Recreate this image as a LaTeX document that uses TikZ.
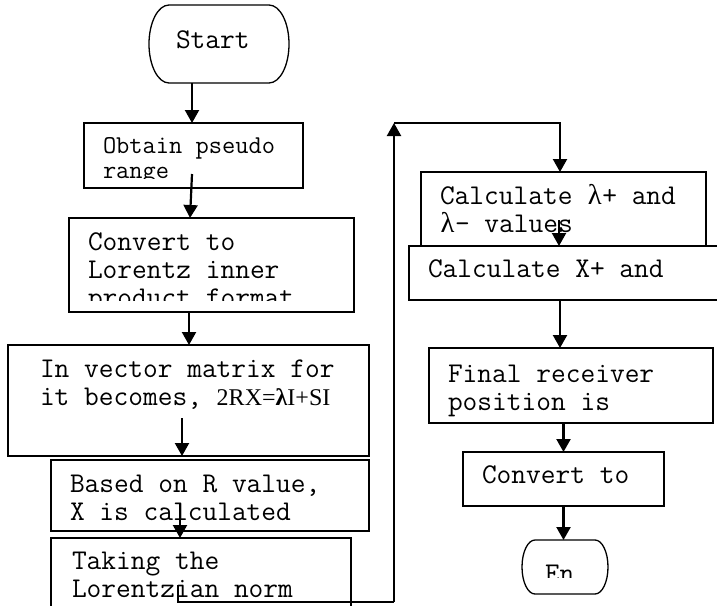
\documentclass[tikz,border=0pt]{standalone}
\usepackage{fontspec}
\newfontfamily\tms{Liberation Serif}
\usetikzlibrary{arrows.meta,calc}
\newcommand{\lam}{\makebox[0.525em]{\tms λ}}
\begin{document}
\begin{tikzpicture}[x=1pt,y=-1pt,
  box/.style={draw,line width=1.3pt,rectangle,inner sep=0pt,outer sep=0pt,anchor=north west},
  term/.style={rectangle,inner sep=0pt,outer sep=0pt,anchor=north west},
  termline/.style={line width=1.3pt},
  txt/.style={inner sep=0pt,outer sep=0pt,anchor=base west,align=left,font=\ttfamily\fontsize{28.6}{28}\selectfont},
  smalltxt/.style={txt,font=\ttfamily\fontsize{25.7}{25}\selectfont},
  arr/.style={line width=2.2pt,-{Triangle[width=14pt,length=13pt]}},
  conn/.style={line width=2.2pt}]
\path[use as bounding box,clip] (0,0) rectangle (717,605);
\fill[white] (0,0) rectangle (717,605);

% terminals
\node[term,minimum width=140pt,minimum height=78pt] (start) at (149,5) {};
\draw[termline] ([xshift=20pt]start.north west) -- ([xshift=-20pt]start.north east)
  arc[start angle=90,end angle=-90,x radius=20pt,y radius=39pt]
  -- ([xshift=20pt]start.south west)
  arc[start angle=270,end angle=90,x radius=20pt,y radius=39pt] -- cycle;
\node[term,minimum width=86pt,minimum height=54pt] (endt) at (522,540) {};
\draw[termline] ([xshift=13pt]endt.north west) -- ([xshift=-13pt]endt.north east)
  arc[start angle=90,end angle=-90,x radius=13pt,y radius=27pt]
  -- ([xshift=13pt]endt.south west)
  arc[start angle=270,end angle=90,x radius=13pt,y radius=27pt] -- cycle;

% boxes
\node[box,minimum width=219pt,minimum height=65pt] (obtain) at (84,123) {};
\node[box,minimum width=285pt,minimum height=94pt] (conv) at (69,218) {};
\node[box,minimum width=361pt,minimum height=111pt] (vec) at (8,345) {};
\node[box,minimum width=318pt,minimum height=71pt] (based) at (51,460) {};
\node[box,minimum width=300pt,minimum height=82pt] (taking) at (51,538) {};
\node[box,minimum width=285pt,minimum height=74pt] (lam) at (421,172) {};
\node[box,minimum width=321pt,minimum height=54pt] (calcx) at (409,246) {};
\node[box,minimum width=284pt,minimum height=75pt] (final) at (429,348) {};
\node[box,minimum width=201pt,minimum height=54pt] (convto) at (463,452) {};

% texts (anchored at the baseline of the last line)
\node[txt] (startt) at (176,48) {Start};
\begin{scope}
  \clip (84,123) rectangle (303,178);
  \node[smalltxt] (obtaint) at (103,178) {Obtain pseudo\\range};
\end{scope}
\begin{scope}
  \clip (69,218) rectangle (354,300);
  \node[txt] (convt) at (88,306) {Convert to\\Lorentz inner\\product format};
\end{scope}
\node[txt] (vect) at (40,405) {In vector matrix for\\it becomes, {\tms\fontsize{24}{28}\selectfont 2RX=\textbf{λ}I+SI}};
\node[txt] (basedt) at (70,520) {Based on R value,\\X is calculated};
\begin{scope}
  \clip (51,538) rectangle (351,603);
  \node[txt] (takingt) at (72,597) {Taking the\\Lorentzian norm};
\end{scope}
\node[txt] (lamt) at (440,232) {Calculate \lam+ and\\\lam- values};
\node[txt] (calcxt) at (428,277) {Calculate X+ and};
\node[txt] (finalt) at (448,410) {Final receiver\\position is};
\node[txt] (convtot) at (482,483) {Convert to};
\begin{scope}
  \clip (522,540) rectangle (608,577);
  \node[txt] (endtt) at (545,582) {En};
\end{scope}

% connectors
\draw[arr] ([xshift=-27pt]start.south) -- ([xshift=-1.5pt]obtain.north);
\draw[arr] ([xshift=-1.5pt,yshift=14pt]obtain.south) -- ([xshift=-21.5pt]conv.north);
\draw[arr] ([xshift=-22.5pt]conv.south) -- ([xshift=0.5pt]vec.north);
\draw[arr] ([xshift=-6.5pt,yshift=38pt]vec.south) -- ([xshift=-6.5pt]vec.south);
\draw[arr] ([xshift=-30pt,yshift=27pt]based.south) -- ([xshift=-21pt]taking.north);
\coordinate (loopb) at (394,602);
\coordinate (loopt) at (394,123);
\draw[conn] ([xshift=-23pt]taking.north) ++(0,47) |- (loopb);
\draw[arr] (loopb) -- (loopt);
\draw[arr] (loopt) -| ([xshift=-3.5pt]lam.north);
\draw[arr] ([xshift=-4.5pt,yshift=26pt]lam.south) -- ([xshift=-4.5pt]lam.south);
\draw[arr] ([xshift=-11pt]final.north |- calcx.south) -- ([xshift=-11pt]final.north);
\draw[arr] (final.south -| convto.north) -- (convto.north);
\draw[arr] (convto.south) -- (convto.south |- endt.north);
\end{tikzpicture}
\end{document}
